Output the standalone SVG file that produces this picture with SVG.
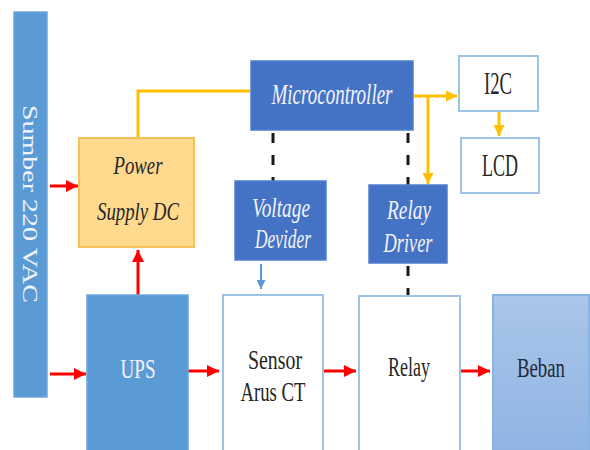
<svg xmlns="http://www.w3.org/2000/svg" width="590" height="450" viewBox="0 0 590 450">
<defs>
<style>
.t{font-family:"Liberation Serif","Times New Roman",serif;}
.dk{fill:#262626;}
.wh{fill:#F2F4FA;}
.it{font-style:italic;}
.dblue{fill:#4472C4;stroke:#4F7FCF;stroke-width:1.5;}
.mblue{fill:#5B9BD5;stroke:#6AA6DC;stroke-width:1.5;}
.wbox{fill:#FFFFFF;stroke:#9DC3E6;stroke-width:2;}
.red{stroke:#FF0000;stroke-width:3;fill:none;}
.org{stroke:#FFC000;stroke-width:3;fill:none;}
.dash{stroke:#1A1A1A;stroke-width:3;stroke-dasharray:10 12;fill:none;}
.bl{stroke:#5B9BD5;stroke-width:2;fill:none;}
</style>
<marker id="ar" viewBox="0 0 10 10" refX="10" refY="5" markerWidth="12" markerHeight="12" markerUnits="userSpaceOnUse" orient="auto"><path d="M0,0 L10,5 L0,10 z" fill="#FF0000"/></marker>
<marker id="ao" viewBox="0 0 10 10" refX="10" refY="5" markerWidth="11" markerHeight="11" markerUnits="userSpaceOnUse" orient="auto"><path d="M0,0 L10,5 L0,10 z" fill="#FFC000"/></marker>
<marker id="ab" viewBox="0 0 10 10" refX="10" refY="5" markerWidth="9" markerHeight="9" markerUnits="userSpaceOnUse" orient="auto"><path d="M0,0 L10,5 L0,10 z" fill="#5B9BD5"/></marker>
<linearGradient id="gb" x1="0" y1="0" x2="0" y2="1"><stop offset="0" stop-color="#AAC6EA"/><stop offset="1" stop-color="#8DB3E2"/></linearGradient>
</defs>

<g id="connectors">
<path class="org" d="M138,138 V91 H250"/>
<path class="org" d="M414,96 H457" marker-end="url(#ao)"/>
<path class="org" d="M428,96 V184" marker-end="url(#ao)"/>
<path class="org" d="M499,112 V136" marker-end="url(#ao)"/>
<path class="dash" d="M273,133 V181"/>
<path class="dash" d="M408,133 V185"/>
<path class="dash" d="M408,266 V296"/>
<path class="bl" d="M261,264 V289" marker-end="url(#ab)"/>
<path class="red" d="M50,186 H78" marker-end="url(#ar)"/>
<path class="red" d="M138,295 V250" marker-end="url(#ar)"/>
<path class="red" d="M50,374 H86" marker-end="url(#ar)"/>
<path class="red" d="M188,371 H219" marker-end="url(#ar)"/>
<path class="red" d="M323,371 H356" marker-end="url(#ar)"/>
<path class="red" d="M460,371 H490" marker-end="url(#ar)"/>
</g>

<g id="sumber">
<rect class="mblue" x="14" y="12" width="33" height="385"/>
<text class="t wh" font-size="28" text-anchor="middle" transform="translate(23,204) scale(0.72,1) rotate(90)" x="0" y="0">Sumber 220 VAC</text>
</g>

<g id="power-supply">
<rect x="79" y="138" width="115" height="109" fill="#FFD98E" stroke="#F7C15A" stroke-width="2"/>
<text class="t dk it" font-size="26" text-anchor="middle" x="138" y="174" textLength="49" lengthAdjust="spacingAndGlyphs">Power</text>
<text class="t dk it" font-size="26" text-anchor="middle" x="138" y="220" textLength="82" lengthAdjust="spacingAndGlyphs">Supply DC</text>
</g>

<g id="microcontroller">
<rect class="dblue" x="251" y="61" width="162" height="69"/>
<text class="t wh it" font-size="29" text-anchor="middle" x="332" y="104" textLength="121" lengthAdjust="spacingAndGlyphs">Microcontroller</text>
</g>

<g id="i2c">
<rect class="wbox" x="459" y="56" width="79" height="55"/>
<text class="t dk" font-size="31" text-anchor="middle" x="498" y="94" textLength="28" lengthAdjust="spacingAndGlyphs">I2C</text>
</g>

<g id="lcd">
<rect class="wbox" x="461" y="138" width="78" height="55"/>
<text class="t dk" font-size="31" text-anchor="middle" x="500" y="176" textLength="36" lengthAdjust="spacingAndGlyphs">LCD</text>
</g>

<g id="voltage-devider">
<rect class="dblue" x="235" y="181" width="91" height="79"/>
<text class="t wh it" font-size="27" text-anchor="middle" x="281" y="217" textLength="58" lengthAdjust="spacingAndGlyphs">Voltage</text>
<text class="t wh it" font-size="27" text-anchor="middle" x="283" y="248" textLength="56" lengthAdjust="spacingAndGlyphs">Devider</text>
</g>

<g id="relay-driver">
<rect class="dblue" x="369" y="185" width="78" height="78"/>
<text class="t wh it" font-size="27" text-anchor="middle" x="409" y="219" textLength="44" lengthAdjust="spacingAndGlyphs">Relay</text>
<text class="t wh it" font-size="27" text-anchor="middle" x="408" y="252" textLength="49" lengthAdjust="spacingAndGlyphs">Driver</text>
</g>

<g id="ups">
<rect class="mblue" x="87" y="295" width="101" height="170"/>
<text class="t wh" font-size="28" text-anchor="middle" x="138" y="378" textLength="35" lengthAdjust="spacingAndGlyphs">UPS</text>
</g>

<g id="sensor">
<rect class="wbox" x="223" y="295" width="100" height="170"/>
<text class="t dk" font-size="28" text-anchor="middle" x="275" y="369" textLength="54" lengthAdjust="spacingAndGlyphs">Sensor</text>
<text class="t dk" font-size="28" text-anchor="middle" x="273" y="401" textLength="65" lengthAdjust="spacingAndGlyphs">Arus CT</text>
</g>

<g id="relay">
<rect class="wbox" x="359" y="296" width="101" height="170"/>
<text class="t dk" font-size="28" text-anchor="middle" x="409" y="376" textLength="42" lengthAdjust="spacingAndGlyphs">Relay</text>
</g>

<g id="beban">
<rect x="493" y="295" width="96" height="170" fill="url(#gb)" stroke="#8AB4E4" stroke-width="2"/>
<text class="t" fill="#1F2A3A" font-size="28" text-anchor="middle" x="541" y="377" textLength="48" lengthAdjust="spacingAndGlyphs">Beban</text>
</g>
</svg>
